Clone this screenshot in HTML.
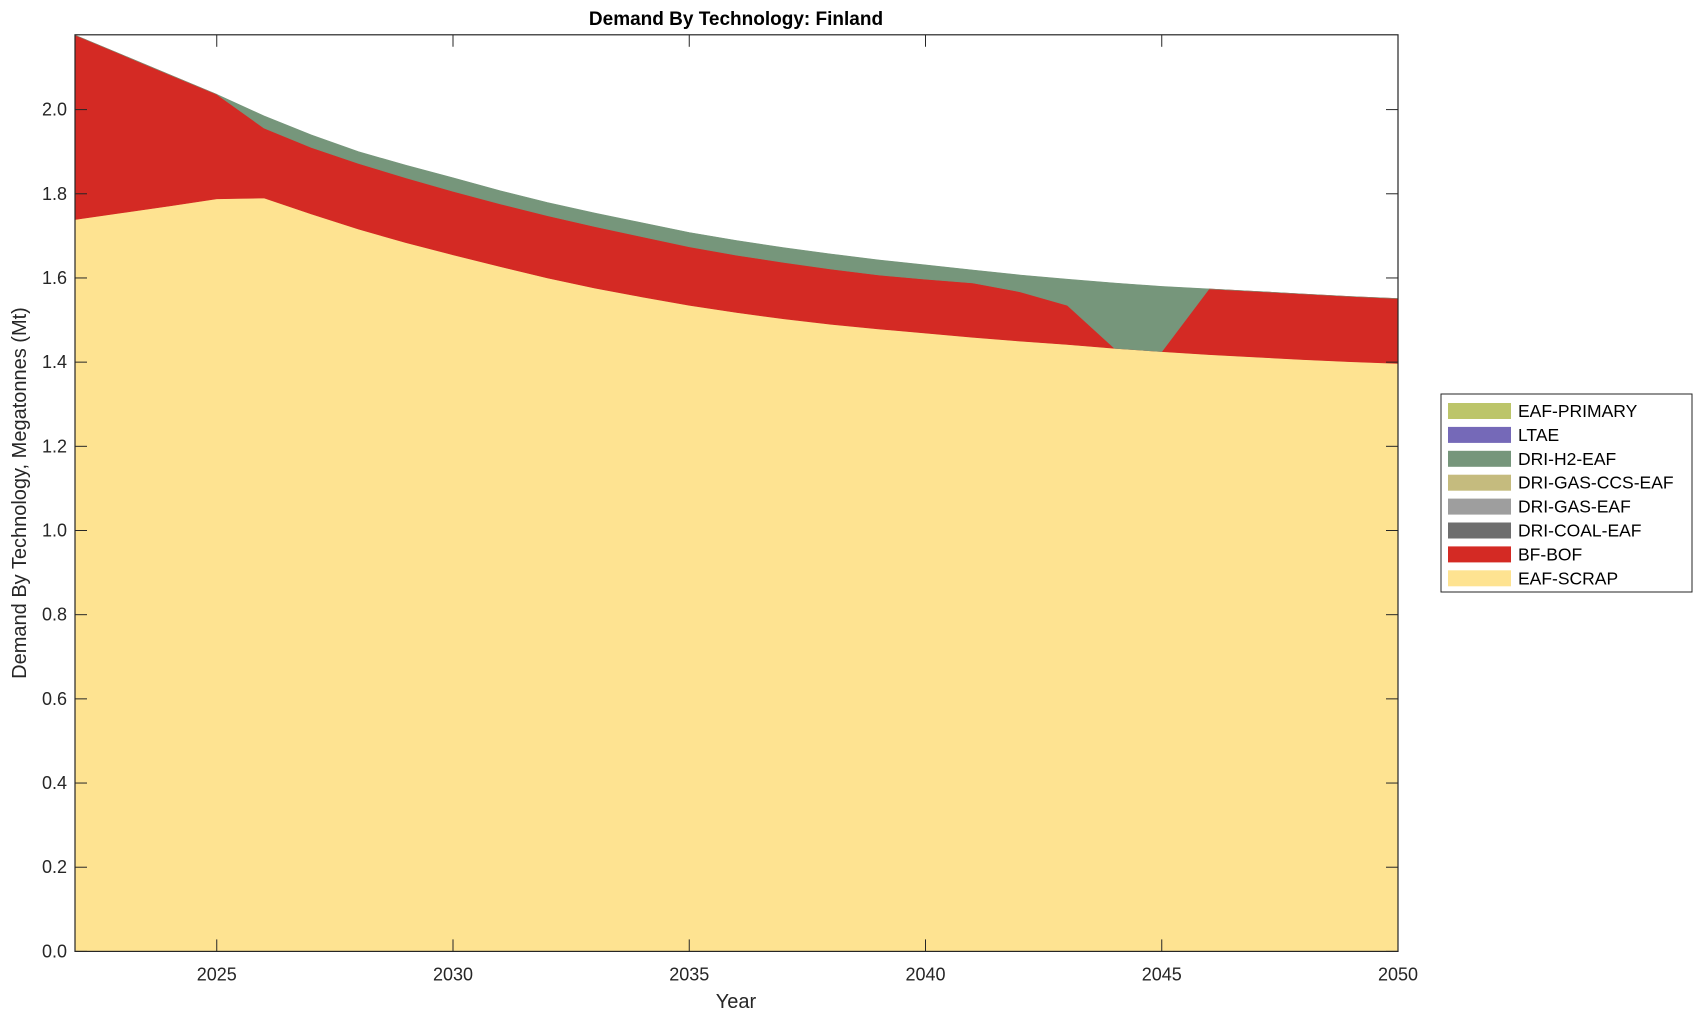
<!DOCTYPE html>
<html><head><meta charset="utf-8"><style>body{margin:0;background:#fff}svg{display:block}text{font-family:"Liberation Sans",Arial,sans-serif;fill:#262626}</style></head>
<body>
<svg id="s" width="1703" height="1020" xmlns="http://www.w3.org/2000/svg"></svg>
<script>
const L=75,R=1398,T=34.8,B=951.4,PY=420.9;
const X=y=>L+(y-2022)*(R-L)/28, Y=v=>B-v*PY;
const tot=[2.177,2.13,2.083,2.036,1.985,1.94,1.90,1.868,1.838,1.807,1.779,1.754,1.731,1.708,1.689,1.672,1.657,1.643,1.631,1.619,1.607,1.597,1.588,1.580,1.574,1.568,1.562,1.556,1.551];
const scr=[1.739,1.755,1.771,1.788,1.790,1.752,1.716,1.684,1.655,1.627,1.600,1.576,1.555,1.535,1.518,1.503,1.490,1.479,1.469,1.459,1.450,1.442,1.433,1.425,1.418,1.412,1.406,1.401,1.397];
const bof=[2.177,2.13,2.083,2.036,1.956,1.91,1.872,1.838,1.806,1.776,1.748,1.722,1.698,1.674,1.654,1.637,1.621,1.607,1.597,1.588,1.567,1.535,1.433,1.425,1.574,1.568,1.562,1.556,1.551];
function area(lo,hi,c){let p='M';for(let i=0;i<29;i++)p+=X(2022+i).toFixed(1)+','+Y(hi[i]).toFixed(1)+' L';for(let i=28;i>=0;i--)p+=X(2022+i).toFixed(1)+','+Y(lo[i]).toFixed(1)+(i?' L':'Z');return `<path d="${p}" fill="${c}" stroke="${c}" stroke-width="0.6"/>`;}
let h='';const z=new Array(29).fill(0);
h+=area(z,scr,'#fee391');h+=area(scr,bof,'#d42a24');h+=area(bof,tot,'#76967b');
h+=`<rect x="${L}" y="${T}" width="${R-L}" height="${B-T}" fill="none" stroke="#262626" stroke-width="1.2"/>`;
for(let v=0;v<=2.0001;v+=0.2){const y=Y(v);h+=`<line x1="${L}" x2="${L+12}" y1="${y}" y2="${y}" stroke="#262626"/><line x1="${R-12}" x2="${R}" y1="${y}" y2="${y}" stroke="#262626"/><text x="${L-8}" y="${y+6}" font-size="18" text-anchor="end">${v.toFixed(1)}</text>`;}
for(let yr=2025;yr<=2050;yr+=5){const x=X(yr);h+=`<line x1="${x}" x2="${x}" y1="${B}" y2="${B-12}" stroke="#262626"/><line x1="${x}" x2="${x}" y1="${T}" y2="${T+12}" stroke="#262626"/><text x="${x}" y="${B+29}" font-size="18" text-anchor="middle">${yr}</text>`;}
h+=`<text x="736" y="25" font-size="19" font-weight="bold" text-anchor="middle" style="fill:#000">Demand By Technology: Finland</text>`;
h+=`<text x="736" y="1008" font-size="20" text-anchor="middle">Year</text>`;
h+=`<text transform="translate(26,493) rotate(-90)" font-size="20" text-anchor="middle">Demand By Technology, Megatonnes (Mt)</text>`;
h+=`<rect x="1441" y="394" width="251" height="198" fill="#fff" stroke="#262626" stroke-width="1"/>`;
const lg=[['EAF-PRIMARY','#bcc56a'],['LTAE','#7569b8'],['DRI-H2-EAF','#76967b'],['DRI-GAS-CCS-EAF','#c5bb7e'],['DRI-GAS-EAF','#9e9e9e'],['DRI-COAL-EAF','#6e6e6e'],['BF-BOF','#d42a24'],['EAF-SCRAP','#fee391']];
lg.forEach((e,i)=>{const cy=411+23.9*i;h+=`<rect x="1448" y="${cy-8}" width="63" height="16" fill="${e[1]}"/><text x="1518" y="${cy+6}" font-size="17.5" style="fill:#000">${e[0]}</text>`;});
document.getElementById('s').innerHTML=h;
</script>
</body></html>
